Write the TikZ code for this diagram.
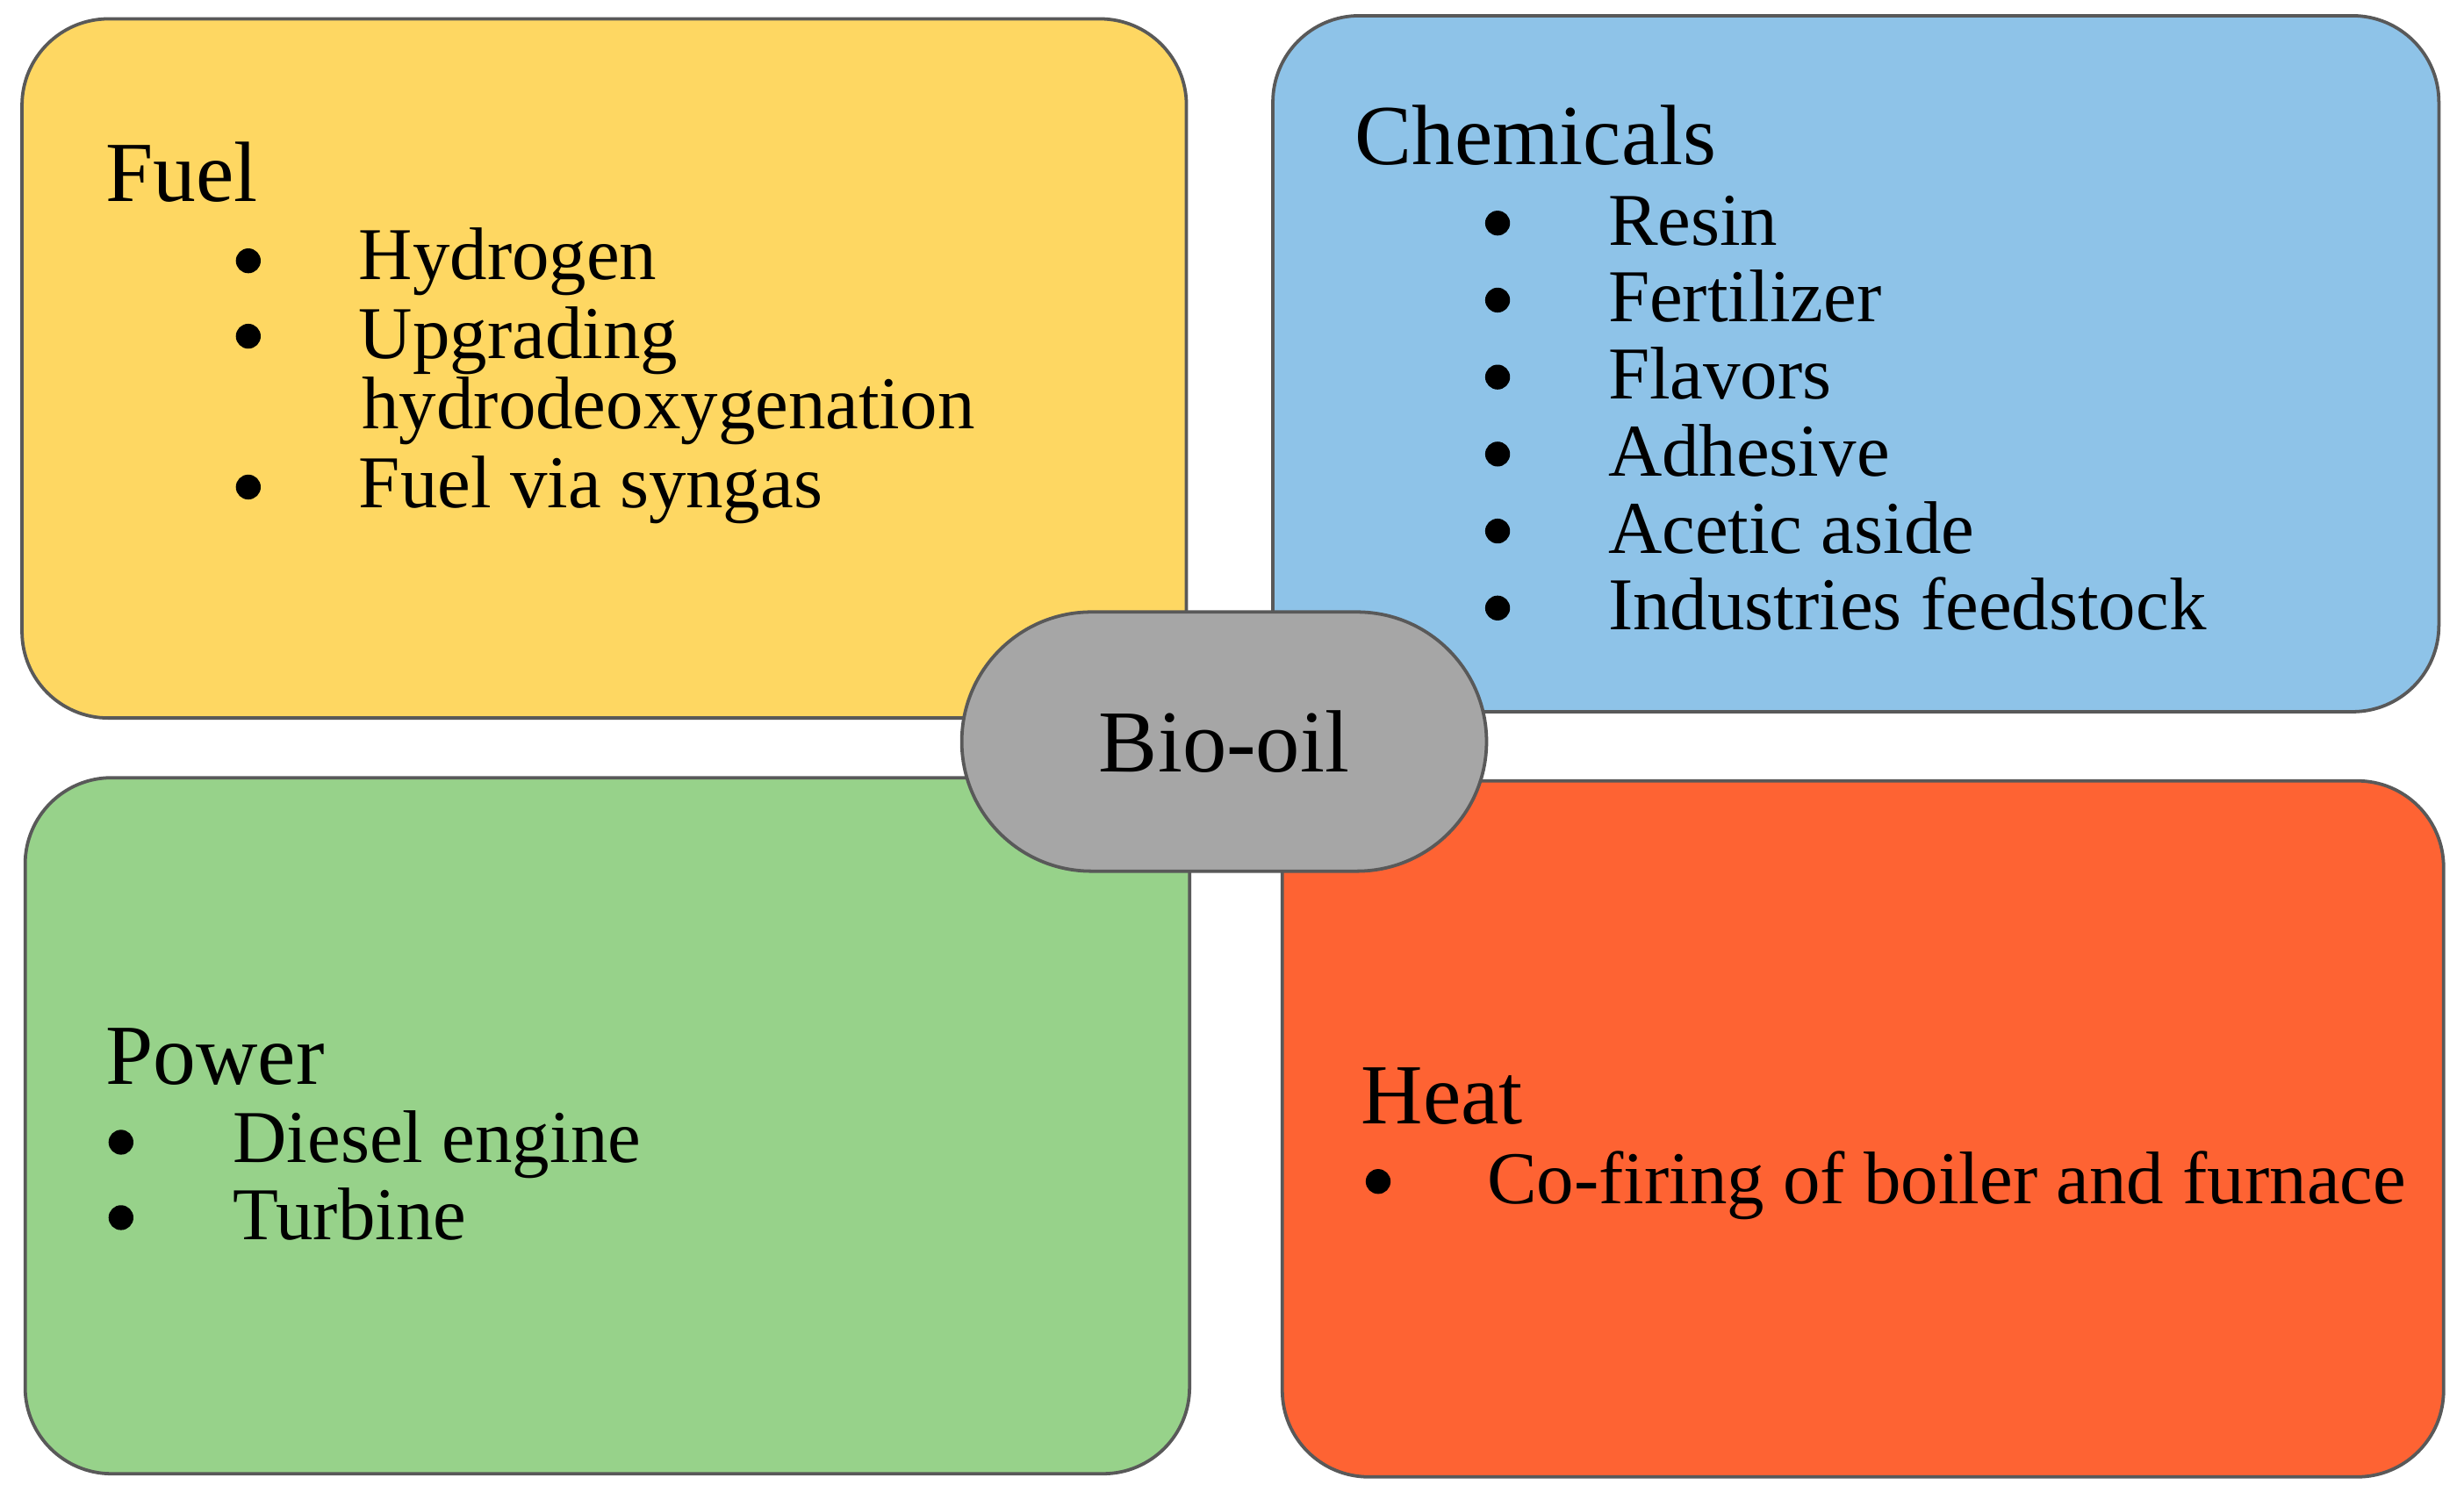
\documentclass[tikz,border=0pt]{standalone}
\usepackage{fontspec}
\setmainfont{Liberation Serif}
\begin{document}
\begin{tikzpicture}[x=0.02cm,y=-0.02cm,
  box/.style={draw=black!65,line width=1.2pt,rounded corners=1.1cm},
  ttl/.style={anchor=base west,font=\fontsize{31}{36}\selectfont,inner sep=0},
  itm/.style={anchor=base west,font=\fontsize{27}{32}\selectfont,inner sep=0},
  bul/.style={circle,fill=black,inner sep=0,minimum size=9pt}]
\useasboundingbox (0,0) rectangle (1568,954);
\definecolor{cy}{HTML}{FED762}
\definecolor{cb}{HTML}{8EC3E8}
\definecolor{cg}{HTML}{97D28A}
\definecolor{cr}{HTML}{FE6333}
\definecolor{cgr}{HTML}{A6A6A6}
\filldraw[box,fill=cy] (14,12) rectangle (755,457);
\filldraw[box,fill=cb] (810,10) rectangle (1552,453);
\filldraw[box,fill=cg] (16,495) rectangle (757,938);
\filldraw[box,fill=cr] (816,497) rectangle (1555,940);
\node[draw=black!65,line width=1.2pt,fill=cgr,rounded corners=82\pgflinewidth,minimum width=6.68cm,minimum height=3.3cm,rounded corners=1.65cm,font=\fontsize{32}{36}\selectfont] (bio) at (779,472) {Bio-oil};
% Fuel
\node[ttl] (fuel) at (67,128) {Fuel};
\node[bul] (fb1) at (158,166) {}; \node[itm] (f1) at (228,178) {Hydrogen};
\node[bul] (fb2) at (158,214) {}; \node[itm] (f2) at (228,228) {Upgrading};
\node[itm] (f3) at (230,273) {hydrodeoxygenation};
\node[bul] (fb3) at (158,310) {}; \node[itm] (f4) at (228,323) {Fuel via syngas};
% Chemicals
\node[ttl] (chem) at (862,105) {Chemicals};
\foreach \t [count=\i] in {Resin,Fertilizer,Flavors,Adhesive,Acetic aside,Industries feedstock}{
  \node[bul] (cb\i) at (953,{142+49*(\i-1)}) {};
  \node[itm] (c\i) at (1023,{156+49*(\i-1)}) {\t};
}
% Power
\node[ttl] (power) at (67,690) {Power};
\node[bul] (pb1) at (77,727) {}; \node[itm] (p1) at (148,740) {Diesel engine};
\node[bul] (pb2) at (77,775) {}; \node[itm] (p2) at (148,789) {Turbine};
% Heat
\node[ttl] (heat) at (866,715) {Heat};
\node[bul] (hb1) at (877,752) {}; \node[itm] (h1) at (946,766) {Co-firing of boiler and furnace};
\end{tikzpicture}
\end{document}
